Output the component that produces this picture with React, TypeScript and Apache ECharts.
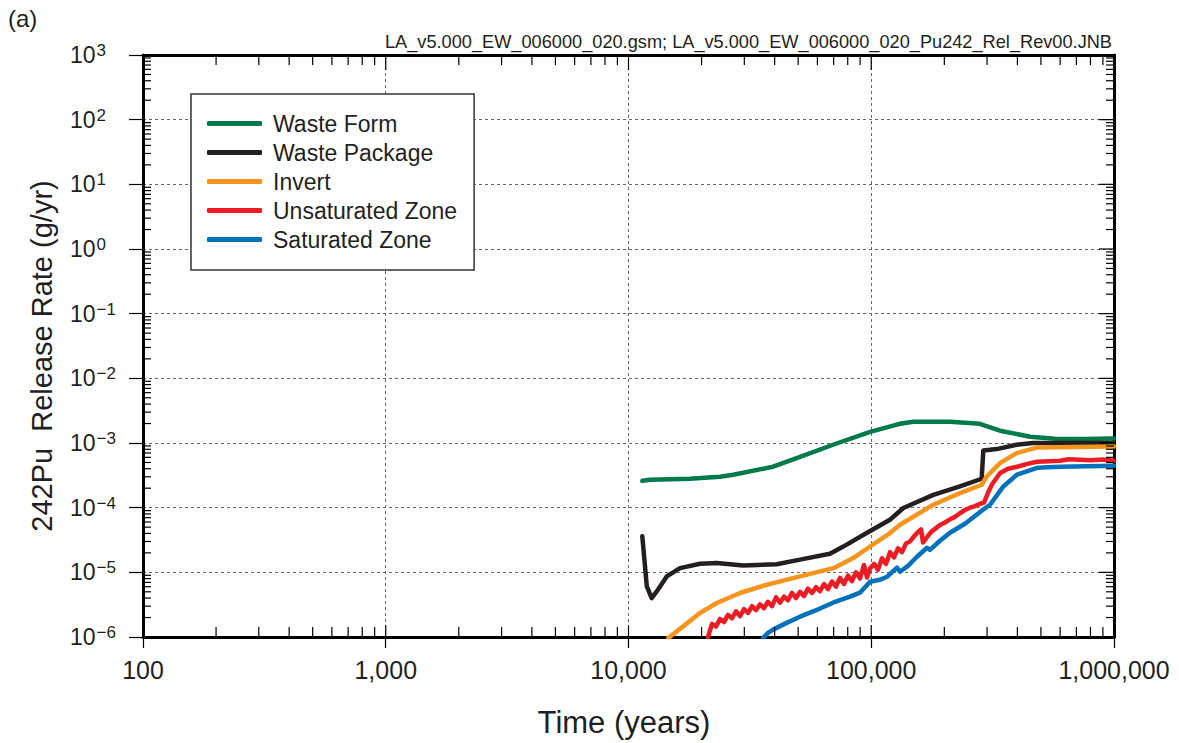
import React, { useEffect, useRef } from 'react';
import * as echarts from 'echarts';

const FONT = '"Liberation Sans", Arial, Helvetica, sans-serif';
const TEXT = '#231f20';

// Axis ranges
const X_MIN = 100;
const X_MAX = 1000000;
const Y_MIN = 1e-6;
const Y_MAX = 1e3;

// Tick labels
const xTickLabels: Record<string, string> = {
  '2': '100',
  '3': '1,000',
  '4': '10,000',
  '5': '100,000',
  '6': '1,000,000',
};
const yTickExponents = [-6, -5, -4, -3, -2, -1, 0, 1, 2, 3];

const seriesNames = ['Waste Form', 'Waste Package', 'Invert', 'Unsaturated Zone', 'Saturated Zone'];
const seriesColors = ['#007a4a', '#231f20', '#f7941d', '#ed1c24', '#0072bc'];

// Data: [time (years), release rate (g/yr)]
const wasteForm = [
  [11400, 2.6e-4], [12300, 2.7e-4], [17900, 2.8e-4], [23800, 3.0e-4], [27000, 3.23e-4],
  [39400, 4.3e-4], [50900, 6.1e-4], [69600, 9.4e-4], [98900, 1.49e-3], [131000, 1.98e-3],
  [149000, 2.13e-3], [211000, 2.13e-3], [280000, 1.98e-3], [294000, 1.85e-3], [339000, 1.55e-3],
  [451000, 1.25e-3], [571000, 1.16e-3], [750000, 1.15e-3], [1000000, 1.17e-3],
];

const wastePackage = [
  [11400, 3.6e-5], [11900, 6.05e-6], [12460, 4.0e-6], [13070, 5.07e-6], [14370, 8.65e-6],
  [16300, 1.16e-5], [19700, 1.36e-5], [23100, 1.39e-5], [29700, 1.28e-5], [40800, 1.33e-5],
  [50900, 1.57e-5], [67600, 1.94e-5], [76700, 2.5e-5], [95700, 4.05e-5], [119400, 6.5e-5],
  [135600, 9.9e-5], [180200, 1.58e-4], [232000, 2.13e-4], [285000, 2.8e-4], [289500, 7.66e-4],
  [328700, 8.05e-4], [397000, 9.4e-4], [463700, 9.96e-4], [1000000, 1.0e-3],
];

const invert = [
  [14600, 9.7e-7], [16800, 1.46e-6], [19700, 2.35e-6], [23100, 3.35e-6], [28800, 4.79e-6],
  [37100, 6.43e-6], [50900, 8.65e-6], [69800, 1.16e-5], [84300, 1.66e-5], [98900, 2.51e-5],
  [119400, 4.05e-5], [131300, 5.44e-5], [180200, 1.11e-4], [232000, 1.68e-4], [285000, 2.26e-4],
  [299000, 3.03e-4], [339000, 4.89e-4], [397000, 6.98e-4], [480500, 8.5e-4], [1000000, 8.8e-4],
];

const unsaturatedZone = [
  [21260, 1.0e-6], [22080, 1.6e-6], [22940, 1.45e-6], [23820, 1.9e-6], [24740, 1.7e-6],
  [25700, 2.2e-6], [26690, 1.95e-6], [27720, 2.5e-6], [28800, 2.1e-6], [29910, 2.7e-6],
  [31070, 2.35e-6], [32270, 3.0e-6], [33510, 2.6e-6], [34810, 3.2e-6], [36150, 2.8e-6],
  [37550, 3.5e-6], [39010, 3.0e-6], [40520, 4.1e-6], [42080, 3.4e-6], [43710, 4.2e-6],
  [45400, 3.7e-6], [47150, 4.8e-6], [48980, 4.0e-6], [50880, 5.0e-6], [52840, 4.3e-6],
  [54880, 5.6e-6], [57010, 4.8e-6], [59210, 5.9e-6], [61500, 5.1e-6], [63880, 6.6e-6],
  [66350, 5.5e-6], [68910, 7.2e-6], [71580, 6.0e-6], [74340, 8.2e-6], [77220, 6.6e-6],
  [80200, 8.9e-6], [83300, 7.3e-6], [86520, 1.0e-5], [89870, 8.0e-6], [93340, 1.3e-5],
  [96050, 8.3e-6], [98830, 1.15e-5], [102650, 1.35e-5], [106610, 1.1e-5], [110730, 1.65e-5],
  [115020, 1.35e-5], [119460, 2.05e-5], [124080, 1.7e-5], [128880, 2.35e-5], [133870, 2.05e-5],
  [139050, 2.8e-5], [144420, 3.0e-5], [150010, 3.6e-5], [155810, 4.2e-5], [160300, 4.6e-5],
  [163400, 2.9e-5], [169700, 3.5e-5], [176300, 4.2e-5], [183100, 4.7e-5], [192000, 5.4e-5],
  [201300, 5.9e-5], [211000, 6.6e-5], [221300, 7.2e-5], [232000, 8.2e-5], [243300, 9.2e-5],
  [255100, 1.0e-4], [267600, 1.06e-4], [280500, 1.15e-4], [291400, 1.2e-4], [302700, 1.7e-4],
  [314500, 2.3e-4], [339000, 3.4e-4], [365800, 3.99e-4], [398600, 4.29e-4], [440000, 4.75e-4],
  [481800, 5.12e-4], [540000, 5.2e-4], [599000, 5.31e-4], [650000, 5.6e-4], [724400, 5.5e-4],
  [800000, 5.4e-4], [900000, 5.55e-4], [1000000, 5.3e-4],
];

const saturatedZone = [
  [35930, 9.75e-7], [37550, 1.16e-6], [39400, 1.3e-6], [44130, 1.61e-6], [50880, 2.06e-6],
  [58640, 2.55e-6], [69570, 3.39e-6], [81740, 4.2e-6], [89860, 4.84e-6], [98860, 7.16e-6],
  [108700, 7.69e-6], [116100, 8.55e-6], [127700, 1.18e-5], [131300, 1.02e-5], [141700, 1.26e-5],
  [154300, 1.74e-5], [169700, 2.4e-5], [174600, 2.23e-5], [191900, 3.08e-5], [211000, 4.1e-5],
  [243300, 5.64e-5], [288700, 9.28e-5], [308500, 1.11e-4], [348900, 2.1e-4], [398600, 3.23e-4],
  [481800, 4.14e-4], [599000, 4.3e-4], [1000000, 4.44e-4],
];

const seriesData = [wasteForm, wastePackage, invert, unsaturatedZone, saturatedZone];

// Axis decoration ticks (minor log ticks and inward major ticks): [x, y, side, length]
function buildTicks() {
  const out: number[][] = [];
  const mults = [2, 3, 4, 5, 6, 7, 8, 9];
  for (let e = 2; e <= 6; e++) {
    const d = Math.pow(10, e);
    if (e > 2 && e < 6) {
      out.push([d, Y_MIN, 0, 12]);
      out.push([d, Y_MAX, 1, 15]);
    }
    if (e < 6) {
      for (const m of mults) {
        out.push([m * d, Y_MIN, 0, 10]);
        out.push([m * d, Y_MAX, 1, 10]);
      }
    }
  }
  for (let e = -6; e <= 3; e++) {
    const d = Math.pow(10, e);
    if (e > -6 && e < 3) {
      out.push([X_MAX, d, 3, 15]);
    }
    if (e < 3) {
      for (const m of mults) {
        out.push([X_MIN, m * d, 2, 8]);
        out.push([X_MAX, m * d, 3, 8]);
      }
    }
  }
  return out;
}

function supExp(e: number) {
  return e < 0 ? '\u2212' + String(-e) : String(e);
}

export default function App() {
  const ref = useRef<HTMLDivElement>(null);
  useEffect(() => {
    const chart = echarts.init(ref.current as HTMLDivElement, null, { renderer: 'svg' });
    const axisLineStyle = { color: '#000', width: 3 };
    const splitLine = { show: true, lineStyle: { color: '#666', width: 1, type: [3, 3] as any } };
    const lineSeries = seriesNames.map((name, i) => ({
      name,
      type: 'line',
      data: seriesData[i],
      showSymbol: false,
      symbol: 'none',
      color: seriesColors[i],
      itemStyle: { color: seriesColors[i] },
      lineStyle: { width: 4.5, color: seriesColors[i], cap: 'round', join: 'round' },
      z: 3 + i,
      silent: true,
    }));
    const option: any = {
      animation: false,
      backgroundColor: '#fff',
      grid: { left: 143, right: 65, top: 55, bottom: 106, containLabel: false },
      xAxis: [
        {
          type: 'log', logBase: 10, min: X_MIN, max: X_MAX, position: 'bottom',
          axisLine: { show: true, lineStyle: axisLineStyle },
          axisTick: { show: true, inside: false, length: 11, lineStyle: { color: '#000', width: 1.2 } },
          axisLabel: {
            show: true, margin: 20, fontSize: 25, fontFamily: FONT, color: TEXT,
            hideOverlap: false, showMinLabel: true, showMaxLabel: true,
            formatter: (v: number) => xTickLabels[String(Math.round(Math.log10(v)))] ?? '',
          },
          splitLine,
        },
        {
          type: 'log', logBase: 10, min: X_MIN, max: X_MAX, position: 'top',
          axisLine: { show: true, lineStyle: axisLineStyle },
          axisTick: { show: false },
          axisLabel: { show: false },
          splitLine: { show: false },
        },
      ],
      yAxis: [
        {
          type: 'log', logBase: 10, min: Y_MIN, max: Y_MAX, position: 'left', splitNumber: 9,
          axisLine: { show: true, lineStyle: axisLineStyle },
          axisTick: { show: true, inside: false, length: 14, lineStyle: { color: '#000', width: 1.2 } },
          axisLabel: {
            show: true, margin: 73, align: 'left', color: TEXT, fontFamily: FONT,
            formatter: (v: number) => {
              const e = Math.round(Math.log10(v));
              if (!yTickExponents.includes(e)) return '';
              return `{b|10}{s|${supExp(e)}}`;
            },
            rich: {
              b: { fontSize: 23, fontFamily: FONT, color: TEXT },
              s: { fontSize: 17, fontFamily: FONT, color: TEXT, padding: [0, 0, 9, 1] },
            },
          },
          splitLine,
        },
        {
          type: 'log', logBase: 10, min: Y_MIN, max: Y_MAX, position: 'right',
          axisLine: { show: true, lineStyle: axisLineStyle },
          axisTick: { show: false },
          axisLabel: { show: false },
          splitLine: { show: false },
        },
      ],
      legend: {
        show: true,
        orient: 'vertical',
        left: 191,
        top: 94,
        data: seriesNames,
        icon: 'roundRect',
        itemWidth: 55,
        itemHeight: 5,
        itemGap: 6,
        padding: [18, 17, 19, 16],
        borderColor: '#333',
        borderWidth: 1.5,
        backgroundColor: '#fff',
        selectedMode: false,
        textStyle: { fontSize: 23, fontFamily: FONT, color: TEXT, lineHeight: 23, padding: [0, 0, 0, 6] },
      },
      graphic: [
        { type: 'text', left: 8, top: 6, style: { text: '(a)', fontSize: 24, fontFamily: FONT, fill: TEXT } },
        {
          type: 'text', x: 1112, y: 42,
          style: { text: 'LA_v5.000_EW_006000_020.gsm; LA_v5.000_EW_006000_020_Pu242_Rel_Rev00.JNB', fontSize: 18.2, fontFamily: FONT, fill: TEXT, textAlign: 'right', textVerticalAlign: 'middle' },
        },
        {
          type: 'text', x: 624, y: 722,
          style: { text: 'Time (years)', fontSize: 31, fontFamily: FONT, fill: TEXT, textAlign: 'center', textVerticalAlign: 'middle' },
        },
        {
          type: 'text', x: 42, y: 356, rotation: Math.PI / 2,
          style: { text: '242Pu  Release Rate (g/yr)', fontSize: 29, fontFamily: FONT, fill: TEXT, textAlign: 'center', textVerticalAlign: 'middle' },
        },
      ],
      series: [
        ...lineSeries,
        {
          name: 'ticks',
          type: 'custom',
          xAxisIndex: 0,
          yAxisIndex: 0,
          silent: true,
          clip: false,
          z: 20,
          encode: { x: 0, y: 1 },
          data: buildTicks(),
          renderItem: (params: any, api: any) => {
            const xv = api.value(0);
            const yv = api.value(1);
            const kind = api.value(2);
            const len = api.value(3);
            const p = api.coord([xv, yv]);
            let x2 = p[0];
            let y2 = p[1];
            if (kind === 0) y2 = p[1] - len;
            else if (kind === 1) y2 = p[1] + len;
            else if (kind === 2) x2 = p[0] + len;
            else x2 = p[0] - len;
            return { type: 'line', shape: { x1: p[0], y1: p[1], x2, y2 }, style: { stroke: '#000', lineWidth: 1.2 } };
          },
        },
      ],
    };
    chart.setOption(option);
    return () => chart.dispose();
  }, []);
  return (
    <div
      ref={ref}
      style={{ position: 'fixed', left: 0, top: 0, width: 1179, height: 743, background: '#fff' }}
    />
  );
}
